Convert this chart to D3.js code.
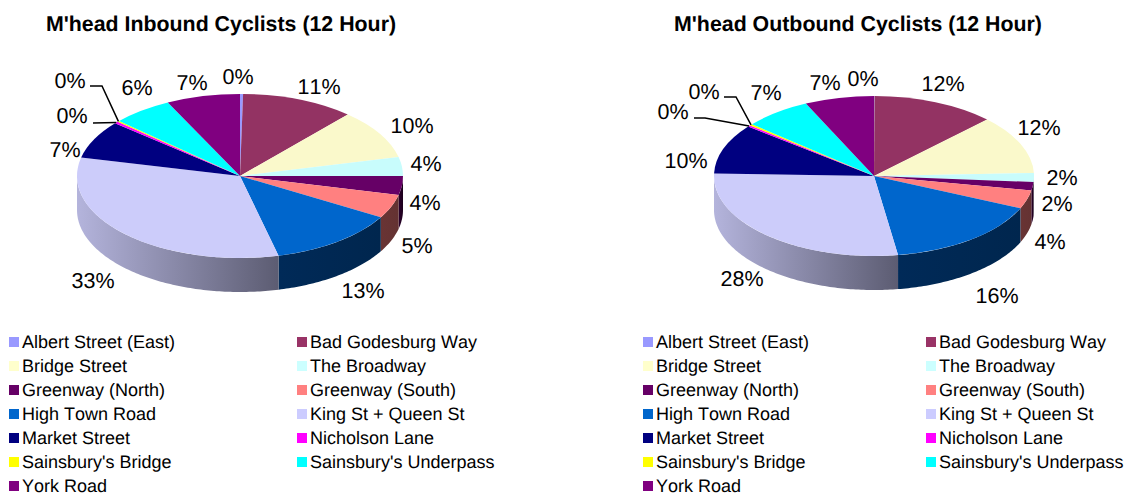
<!DOCTYPE html>
<html><head><meta charset="utf-8">
<script src="https://cdn.jsdelivr.net/npm/d3@7/dist/d3.min.js"></script>
<style>html,body{margin:0;padding:0;background:#fff;overflow:hidden}svg{display:block}text{font-family:"Liberation Sans",Arial,sans-serif;fill:#000;font-kerning:none;text-rendering:geometricPrecision}</style>
</head><body><svg id="c" width="1129" height="496"></svg>
<script>
const categories = ["Albert Street (East)","Bad Godesburg Way","Bridge Street","The Broadway","Greenway (North)","Greenway (South)","High Town Road","King St + Queen St","Market Street","Nicholson Lane","Sainsbury's Bridge","Sainsbury's Underpass","York Road"];
const inboundValues  = [0.3,11.2,9.8,3.7,3.7,4.7,12.8,32.4,7.5,0.4,0.2,6.0,7.3];
const outboundValues = [0.05,12.45,11.9,1.8,1.7,3.7,16.0,27.9,10.1,0.3,0.3,6.8,7.0];
const inboundLabels  = ["0%","11%","10%","4%","4%","5%","13%","33%","7%","0%","0%","6%","7%"];
const outboundLabels = ["0%","12%","12%","2%","2%","4%","16%","28%","10%","0%","0%","7%","7%"];
const colours = ["#9999FF","#993366","#FFFFCC","#CCFFFF","#660066","#FF8080","#0066CC","#CCCCFF","#000080","#FF00FF","#FFFF00","#00FFFF","#800080"];
const topColours = ["#9999FF","#933363","#FAF9CB","#C8FCFC","#660066","#FF8080","#0066CC","#CCCCFA","#000080","#FF00FF","#FFFF00","#00FFFF","#800080"];
const sideLeft  = ["#4d4d80","#4d1a33","#808066","#668080","#2c002c","#693434","#002a58","#B4B4DC","#000040","#800080","#808000","#008080","#400040"];
const sideRight = ["#4d4d80","#4d1a33","#808066","#668080","#1c001c","#643232","#00264e","#5C5C72","#000040","#800080","#808000","#008080","#400040"];

const inboundLayout = {
  title:"M'head Inbound Cyclists (12 Hour)", titleX:221, cx:240, cy:176, rx:163, ry:82, depth:34,
  legendX:[9,297],
  labels:[[238,77],[319,87],[412,126],[426,164],[425,203],[417,246],[363,291],[93,281],[65,150],[72,116],[70,81],[137,88],[192,83]],
  leaders:{9:[[93,123]],10:[[90,86],[102,86]]}
};
const outboundLayout = {
  title:"M'head Outbound Cyclists (12 Hour)", titleX:858, cx:874, cy:176, rx:160, ry:80, depth:34,
  legendX:[643,926],
  labels:[[863,79],[943,84],[1039,128],[1062,178],[1057,204],[1050,242],[997,296],[742,279],[686,161],[673,112],[704,92],[766,93],[825,83]],
  leaders:{9:[[694,118],[705,118]],10:[[724,97],[736,97]]}
};

const svg = d3.select("#c");
const defs = svg.append("defs");
let gid = 0;

function drawChart(values, labels, L){
  const g = svg.append("g");
  g.append("text").attr("x",L.titleX).attr("y",31).attr("text-anchor","middle")
    .attr("font-size",21.35).attr("font-weight","bold").text(L.title);

  const pie = d3.pie().sort(null).value(d=>d);
  const arcs = pie(values);
  const px = a => L.cx + L.rx*Math.sin(a);
  const py = a => L.cy - L.ry*Math.cos(a);

  // side wall: only the front half (90deg..270deg) is visible
  const area = d3.area().x(a=>px(a)).y0(a=>py(a)).y1(a=>py(a)+L.depth);
  arcs.forEach((d,i)=>{
    const a0 = Math.max(d.startAngle, Math.PI/2), a1 = Math.min(d.endAngle, 3*Math.PI/2);
    if(a1<=a0) return;
    const n = Math.max(2, Math.ceil((a1-a0)*60));
    const pts = d3.range(n+1).map(k=>a0+(a1-a0)*k/n);
    const xs = pts.map(px);
    const id = "grad"+(gid++);
    const gr = defs.append("linearGradient").attr("id",id).attr("gradientUnits","userSpaceOnUse")
      .attr("x1",d3.min(xs)).attr("x2",d3.max(xs)).attr("y1",0).attr("y2",0);
    gr.append("stop").attr("offset",0).attr("stop-color",sideLeft[i]);
    gr.append("stop").attr("offset",1).attr("stop-color",sideRight[i]);
    g.append("path").attr("d",area(pts)).attr("fill",`url(#${id})`);
  });

  // top face: a circular arc squashed into the pie's ellipse
  const arc = d3.arc().innerRadius(0).outerRadius(L.rx);
  const top = g.append("g").attr("transform",`translate(${L.cx},${L.cy}) scale(1,${L.ry/L.rx})`);
  top.selectAll("path").data(arcs).join("path").attr("d",arc)
    .attr("fill",(d,i)=>topColours[i]);

  // leader lines, ending on the rim at the slice's mid angle
  Object.entries(L.leaders).forEach(([k,pts])=>{
    const a = (arcs[k].startAngle+arcs[k].endAngle)/2;
    g.append("path").attr("d",d3.line()([...pts,[px(a),py(a)]]))
      .attr("fill","none").attr("stroke","#000").attr("stroke-width",1.5);
  });

  g.selectAll("text.lab").data(labels).join("text").attr("class","lab")
    .attr("x",(d,i)=>L.labels[i][0]).attr("y",(d,i)=>L.labels[i][1])
    .attr("text-anchor","middle").attr("dominant-baseline","central")
    .attr("font-size",21.5).text(d=>d);

  // legend: two columns, row-wise
  const rows = d3.scaleLinear().domain([0,6]).range([342,486]);
  const leg = g.selectAll("g.leg").data(categories).join("g").attr("class","leg")
    .attr("transform",(d,i)=>`translate(${L.legendX[i%2]},${rows(Math.floor(i/2))})`);
  leg.append("rect").attr("x",0).attr("y",-5).attr("width",10).attr("height",10).attr("fill",(d,i)=>colours[i]);
  leg.append("text").attr("x",13).attr("y",0).attr("dominant-baseline","central").attr("font-size",18).text(d=>d);
}
drawChart(inboundValues, inboundLabels, inboundLayout);
drawChart(outboundValues, outboundLabels, outboundLayout);
</script></body></html>
